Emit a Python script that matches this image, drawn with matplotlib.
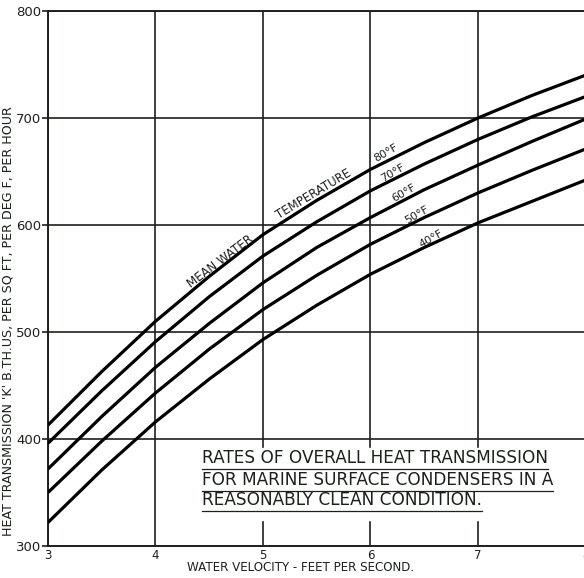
import matplotlib
matplotlib.use("Agg")
import matplotlib.pyplot as plt

# Water velocity, ft/s
velocity = [3, 3.5, 4, 4.5, 5, 5.5, 6, 6.5, 7, 7.5, 8]

# Heat transmission K, per mean water temperature
k_80 = [413, 463, 510, 552, 591, 623, 652, 677, 700, 721, 740]
k_70 = [396, 445, 491, 533, 571, 603, 632, 657, 680, 701, 720]
k_60 = [372, 421, 467, 508, 546, 579, 607, 633, 656, 678, 699]
k_50 = [350, 398, 443, 484, 521, 553, 582, 607, 630, 651, 671]
k_40 = [322, 371, 416, 456, 493, 525, 554, 579, 602, 622, 642]

curves = [("80°F", k_80), ("70°F", k_70), ("60°F", k_60), ("50°F", k_50), ("40°F", k_40)]
label_pos = [(6.14, 667), (6.21, 649), (6.31, 630), (6.43, 609), (6.56, 587)]

x_ticks = [3, 4, 5, 6, 7, 8]
y_ticks = [300, 400, 500, 600, 700, 800]

title_lines = [
    "RATES OF OVERALL HEAT TRANSMISSION",
    "FOR MARINE SURFACE CONDENSERS IN A",
    "REASONABLY CLEAN CONDITION.",
]

ink = "#1c211c"

fig = plt.figure(figsize=(5.84, 5.78), dpi=100)
ax = fig.add_axes([48 / 584, 32 / 578, 537.5 / 584, 535 / 578])
ax.set_xlim(3, 8)
ax.set_ylim(300, 800)

# grid
for xv in x_ticks:
    ax.axvline(xv, color=ink, lw=1.2, zorder=1)
for yv in y_ticks:
    ax.axhline(yv, color=ink, lw=1.2, zorder=1)

for name, vals in curves:
    ax.plot(velocity, vals, color="black", lw=2.3, solid_capstyle="butt", zorder=3)

for (name, vals), (lx, ly) in zip(curves, label_pos):
    ax.text(lx, ly, name, fontsize=8, rotation=30, color=ink,
            ha="center", va="center", zorder=4)

ax.text(4.60, 566, "MEAN WATER", fontsize=8.5, rotation=37, color=ink,
        ha="center", va="center", zorder=4)
ax.text(5.47, 629, "TEMPERATURE", fontsize=8.5, rotation=31, color=ink,
        ha="center", va="center", zorder=4)

# white panel behind the title block
ax.fill_between([4.38, 7.98], 324, 392, color="white", zorder=2)

title_y = [377.5, 357, 338]
texts = []
for line, ty in zip(title_lines, title_y):
    t = ax.text(4.43, ty, line, fontsize=12.2, color=ink, ha="left",
                va="baseline", zorder=4)
    texts.append(t)

ax.set_xticks(x_ticks)
ax.set_yticks(y_ticks)
ax.set_xticklabels([str(v) for v in x_ticks], fontsize=8.5, color=ink)
ax.set_yticklabels([str(v) for v in y_ticks], fontsize=9.5, color=ink)
ax.tick_params(axis="x", length=0, pad=2)
ax.tick_params(axis="y", length=4, width=1.2, pad=1, colors=ink)
for side in ["left", "bottom", "top"]:
    ax.spines[side].set_linewidth(1.4)
    ax.spines[side].set_color(ink)
ax.spines["right"].set_visible(False)

ax.set_xlabel("WATER VELOCITY - FEET PER SECOND.", fontsize=8.6, color=ink)
ax.xaxis.set_label_coords(0.47, -0.028)
ax.set_ylabel("HEAT TRANSMISSION 'K' B.TH.US, PER SQ FT, PER DEG F, PER HOUR",
              fontsize=9.1, color=ink)
ax.yaxis.set_label_coords(-0.063, 0.42)

# underline each title line
fig.canvas.draw()
renderer = fig.canvas.get_renderer()
inv = ax.transData.inverted()
for t in texts:
    bb = t.get_window_extent(renderer)
    (x0, y0), (x1, _) = inv.transform([(bb.x0, bb.y0), (bb.x1, bb.y0)])
    ax.plot([x0, x1], [y0 - 1.5, y0 - 1.5], color=ink, lw=0.9, zorder=4)

fig.savefig("out.png", dpi=100)
